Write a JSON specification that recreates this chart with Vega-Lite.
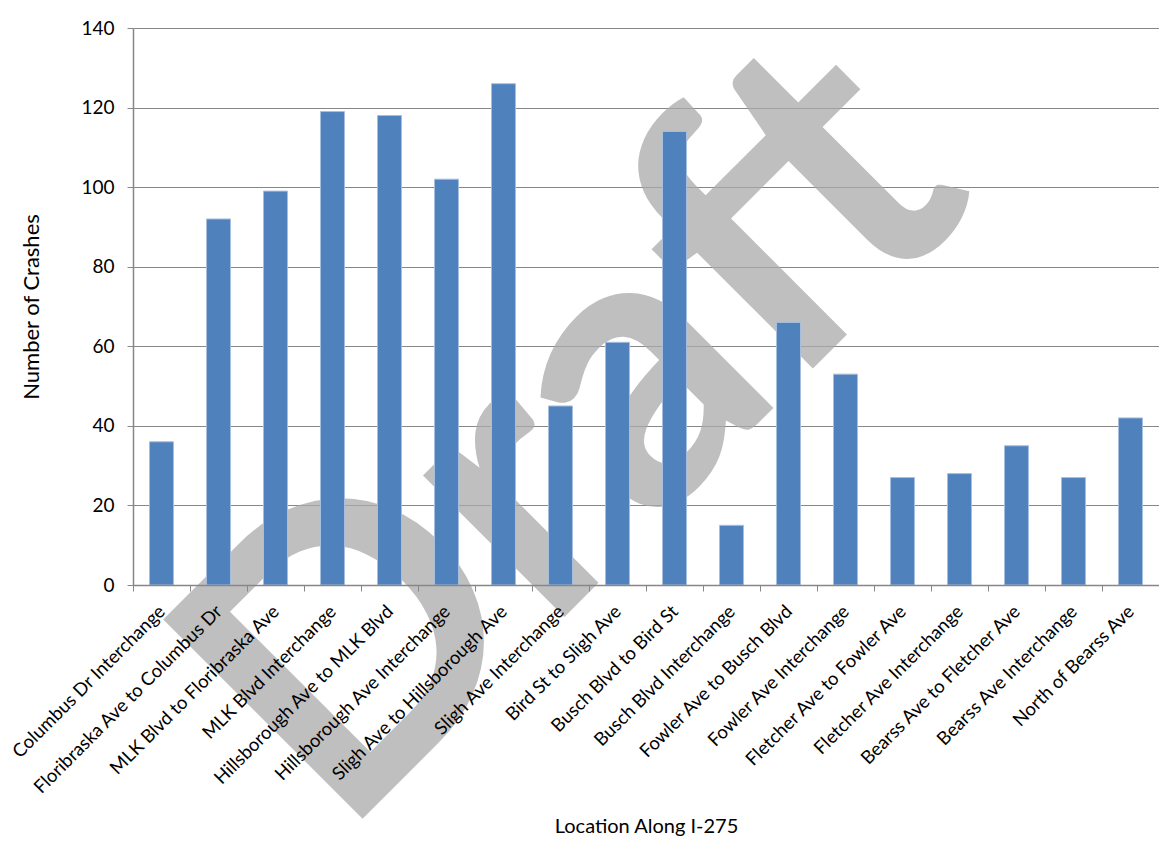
{
  "$schema": "https://vega.github.io/schema/vega-lite/v6.json",
  "width": 1026,
  "height": 557,
  "autosize": {"type": "none"},
  "padding": {"left": 133, "top": 28, "right": 0, "bottom": 256},
  "background": "white",
  "config": {"view": {"stroke": null}, "font": "Lato"},
  "datasets": {
    "crashes": [
      {"loc": "Columbus Dr Interchange", "n": 36},
      {"loc": "Floribraska Ave to Columbus Dr", "n": 92},
      {"loc": "MLK Blvd to Floribraska Ave", "n": 99},
      {"loc": "MLK Blvd Interchange", "n": 119},
      {"loc": "Hillsborough Ave to MLK Blvd", "n": 118},
      {"loc": "Hillsborough Ave Interchange", "n": 102},
      {"loc": "Sligh Ave to Hillsborough Ave", "n": 126},
      {"loc": "Sligh Ave Interchange", "n": 45},
      {"loc": "Bird St to Sligh Ave", "n": 61},
      {"loc": "Busch Blvd to Bird St", "n": 114},
      {"loc": "Busch Blvd Interchange", "n": 15},
      {"loc": "Fowler Ave to Busch Blvd", "n": 66},
      {"loc": "Fowler Ave Interchange", "n": 53},
      {"loc": "Fletcher Ave to Fowler Ave", "n": 27},
      {"loc": "Fletcher Ave Interchange", "n": 28},
      {"loc": "Bearss Ave to Fletcher Ave", "n": 35},
      {"loc": "Bearss Ave Interchange", "n": 27},
      {"loc": "North of Bearss Ave", "n": 42}
    ],
    "watermark": [
      {"loc": "Busch Blvd to Bird St", "n": 16.2, "word": "Draft"}
    ]
  },
  "encoding": {
    "x": {
      "field": "loc",
      "type": "nominal",
      "sort": null,
      "scale": {
        "domain": ["Columbus Dr Interchange", "Floribraska Ave to Columbus Dr", "MLK Blvd to Floribraska Ave", "MLK Blvd Interchange", "Hillsborough Ave to MLK Blvd", "Hillsborough Ave Interchange", "Sligh Ave to Hillsborough Ave", "Sligh Ave Interchange", "Bird St to Sligh Ave", "Busch Blvd to Bird St", "Busch Blvd Interchange", "Fowler Ave to Busch Blvd", "Fowler Ave Interchange", "Fletcher Ave to Fowler Ave", "Fletcher Ave Interchange", "Bearss Ave to Fletcher Ave", "Bearss Ave Interchange", "North of Bearss Ave"],
        "paddingInner": 0,
        "paddingOuter": 0
      },
      "axis": {
        "title": "Location Along I-275",
        "labelAngle": -45,
        "labelAlign": "right",
        "labelBaseline": "middle",
        "labelFontSize": 18.5,
        "labelColor": "#000000",
        "labelLimit": 0,
        "labelOverlap": false,
        "labelPadding": 17,
        "tickBand": "extent",
        "tickSize": 6,
        "tickColor": "#878787",
        "domainColor": "#878787",
        "domainWidth": 1.5,
        "titleFontSize": 20,
        "titleFontWeight": "normal",
        "titleColor": "#000000",
        "titleY": 247,
        "titleBaseline": "alphabetic",
        "zindex": 1
      }
    },
    "y": {
      "field": "n",
      "type": "quantitative",
      "scale": {"domain": [0, 140], "nice": false},
      "axis": {
        "title": "Number of Crashes",
        "values": [0, 20, 40, 60, 80, 100, 120, 140],
        "grid": true,
        "gridColor": "#878787",
        "gridWidth": 1.2,
        "domainColor": "#878787",
        "domainWidth": 1.5,
        "tickColor": "#878787",
        "tickSize": 6,
        "labelPadding": 13,
        "labelFontSize": 19,
        "labelColor": "#000000",
        "titleFontSize": 22,
        "titleFontWeight": "normal",
        "titleColor": "#000000",
        "titleX": -90
      }
    }
  },
  "layer": [
    {
      "data": {"name": "watermark"},
      "mark": {"type": "text", "angle": -45, "fontSize": 390, "fontWeight": "bold", "color": "#aaaaaa", "opacity": 0.75, "align": "center", "baseline": "alphabetic"},
      "encoding": {
        "x": {
          "field": "loc",
          "type": "nominal",
          "bandPosition": 0.26,
          "scale": {
            "domain": ["Columbus Dr Interchange", "Floribraska Ave to Columbus Dr", "MLK Blvd to Floribraska Ave", "MLK Blvd Interchange", "Hillsborough Ave to MLK Blvd", "Hillsborough Ave Interchange", "Sligh Ave to Hillsborough Ave", "Sligh Ave Interchange", "Bird St to Sligh Ave", "Busch Blvd to Bird St", "Busch Blvd Interchange", "Fowler Ave to Busch Blvd", "Fowler Ave Interchange", "Fletcher Ave to Fowler Ave", "Fletcher Ave Interchange", "Bearss Ave to Fletcher Ave", "Bearss Ave Interchange", "North of Bearss Ave"],
            "paddingInner": 0,
            "paddingOuter": 0
          }
        },
        "text": {"field": "word"}
      }
    },
    {
      "data": {"name": "crashes"},
      "mark": {"type": "bar", "color": "#4f81bd", "stroke": "#a7bfde", "strokeWidth": 1, "width": {"band": 0.42}}
    }
  ]
}
